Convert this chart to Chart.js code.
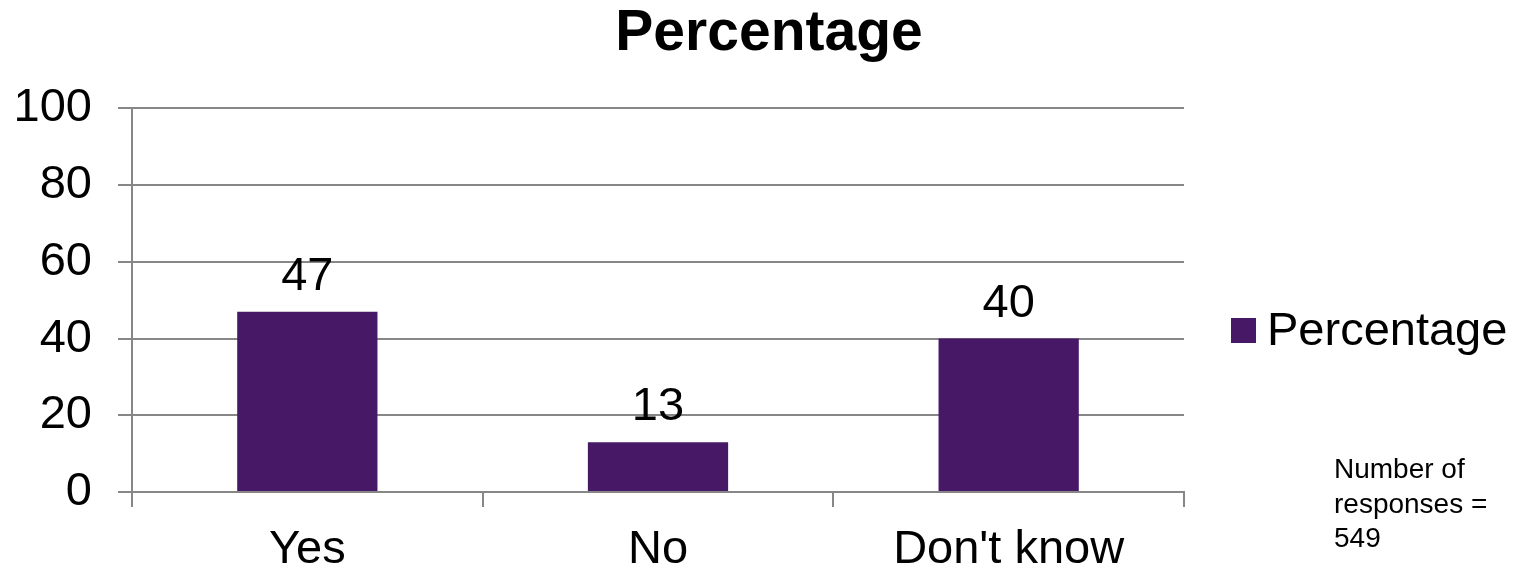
<!DOCTYPE html>
<html>
<head>
<meta charset="utf-8">
<script src="https://cdn.jsdelivr.net/npm/chart.js@4/dist/chart.umd.min.js"></script>
<style>
  html, body { margin: 0; padding: 0; background: #fff; }
  #wrap { width: 1520px; height: 574px; }
</style>
</head>
<body>
<div id="wrap"><canvas id="chart" width="1520" height="574"></canvas></div>
<script>
// Data
const categories = ['Yes', 'No', "Don't know"];
const percentages = [47, 13, 40];
const yTickValues = [0, 20, 40, 60, 80, 100];
const seriesName = 'Percentage';
const noteLines = ['Number of', 'responses =', '549'];

const FONT = "'Liberation Sans', Arial, sans-serif";
const BAR_COLOR = '#471866';
const GRID_COLOR = '#878787';

// Draw the value above each bar
const valueLabels = {
  id: 'valueLabels',
  afterDatasetsDraw(chart) {
    const ctx = chart.ctx;
    const meta = chart.getDatasetMeta(0);
    ctx.save();
    ctx.font = '47px ' + FONT;
    ctx.fillStyle = '#000';
    ctx.textAlign = 'center';
    ctx.textBaseline = 'alphabetic';
    meta.data.forEach((bar, i) => {
      ctx.fillText(String(chart.data.datasets[0].data[i]), bar.x, bar.y - 22);
    });
    ctx.restore();
  }
};

// Title is centred over the whole picture, not just the plot part
const centerTitle = {
  id: 'centerTitle',
  afterLayout(chart) {
    if (chart.titleBlock) {
      chart.titleBlock.left = 0;
      chart.titleBlock.right = 1538;
    }
  }
};

// Legend on the right and the note about the number of responses
const sideLegend = {
  id: 'sideLegend',
  afterDraw(chart) {
    const ctx = chart.ctx;
    const ds = chart.data.datasets[0];
    ctx.save();
    ctx.fillStyle = ds.backgroundColor;
    ctx.fillRect(1231, 318, 25, 25);
    ctx.fillStyle = '#000';
    ctx.font = '47px ' + FONT;
    ctx.textAlign = 'left';
    ctx.textBaseline = 'middle';
    ctx.fillText(ds.label, 1267, 332);

    ctx.font = '28px ' + FONT;
    ctx.textBaseline = 'alphabetic';
    noteLines.forEach((line, i) => {
      ctx.fillText(line, 1334, 478 + i * 34.5);
    });
    ctx.restore();
  }
};

new Chart(document.getElementById('chart'), {
  type: 'bar',
  data: {
    labels: categories,
    datasets: [{
      label: seriesName,
      data: percentages,
      backgroundColor: BAR_COLOR,
      borderWidth: 0,
      categoryPercentage: 0.4,
      barPercentage: 1
    }]
  },
  options: {
    responsive: false,
    animation: false,
    layout: { padding: { left: 15, right: 336, top: 0, bottom: 0 } },
    plugins: {
      legend: { display: false },
      tooltip: { enabled: false },
      title: {
        display: true,
        text: seriesName,
        color: '#000',
        font: { family: FONT, size: 57, weight: 'bold' },
        padding: { top: 0, bottom: 40 }
      }
    },
    scales: {
      x: {
        afterFit(scale) { scale.height = 82; },
        grid: {
          display: true,
          offset: true,
          drawOnChartArea: false,
          drawTicks: true,
          tickLength: 15,
          color: GRID_COLOR,
          lineWidth: 2
        },
        border: { display: true, color: GRID_COLOR, width: 2 },
        ticks: {
          color: '#000',
          padding: 15,
          font: { family: FONT, size: 47 }
        }
      },
      y: {
        min: 0,
        max: 100,
        afterFit(scale) { scale.width = 117; },
        afterBuildTicks(scale) {
          scale.ticks = yTickValues.map(v => ({ value: v }));
        },
        grid: {
          color: GRID_COLOR,
          lineWidth: 2,
          tickLength: 14
        },
        border: { display: true, color: GRID_COLOR, width: 2 },
        ticks: {
          color: '#000',
          padding: 26,
          font: { family: FONT, size: 47 }
        }
      }
    }
  },
  plugins: [valueLabels, centerTitle, sideLegend]
});
</script>
</body>
</html>
